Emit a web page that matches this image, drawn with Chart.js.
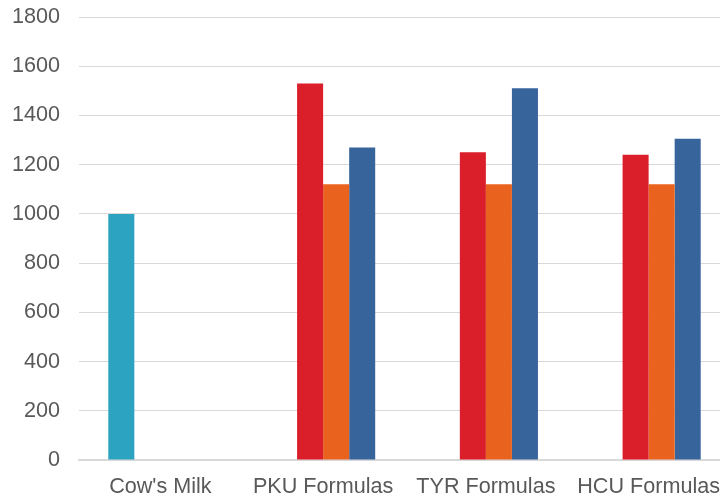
<!DOCTYPE html>
<html>
<head>
<meta charset="utf-8">
<script src="https://cdn.jsdelivr.net/npm/chart.js@4"></script>
<style>
  html, body { margin: 0; padding: 0; background: #fff; overflow: hidden; }
  #wrap { width: 730px; height: 498px; }
</style>
</head>
<body>
<div id="wrap"><canvas id="grafico" width="730" height="498"></canvas></div>
<script>
// Categorías y valores
const categorias = ["Cow's Milk", "PKU Formulas", "TYR Formulas", "HCU Formulas"];
const lecheVaca = [1000, null, null, null];
const serieRoja = [null, 1530, 1250, 1240];
const serieNaranja = [null, 1120, 1120, 1120];
const serieAzul = [null, 1270, 1510, 1305];
const ticksY = [0, 200, 400, 600, 800, 1000, 1200, 1400, 1600, 1800];

const fuente = { family: "'Liberation Sans', Arial, sans-serif", size: 21.6 };

function serie(datos, color) {
    return {
        data: datos,
        backgroundColor: color,
        borderWidth: 0,
        categoryPercentage: 0.64,
        barPercentage: 1.0
    };
}

const ctx = document.getElementById('grafico').getContext('2d');
new Chart(ctx, {
    type: 'bar',
    data: {
        labels: categorias,
        datasets: [
            serie(lecheVaca, '#2ca3c0'),
            serie(serieRoja, '#da1f2a'),
            serie(serieNaranja, '#e9631e'),
            serie(serieAzul, '#38649c')
        ]
    },
    options: {
        responsive: false,
        animation: false,
        layout: { padding: { top: 17, left: 12, right: 0, bottom: 0 } },
        plugins: {
            legend: { display: false },
            tooltip: { enabled: false }
        },
        scales: {
            x: {
                grid: { display: false, drawTicks: false },
                border: { color: '#d9d9d9', width: 2 },
                ticks: { color: '#595959', font: fuente, padding: 14, maxRotation: 0, autoSkip: false },
                afterFit: (eje) => {
                    eje.height = 38;
                    eje.paddingLeft = 0;
                    eje.paddingRight = 0;
                }
            },
            y: {
                min: 0,
                max: 1800,
                afterBuildTicks: (eje) => { eje.ticks = ticksY.map(v => ({ value: v })); },
                grid: { color: '#d9d9d9', lineWidth: 1, drawTicks: false },
                border: { display: false },
                ticks: {
                    color: '#595959',
                    font: fuente,
                    padding: 19,
                    callback: (v) => String(v)
                },
                afterFit: (eje) => {
                    eje.width = 67;
                    eje.paddingTop = 0;
                    eje.paddingBottom = 0;
                }
            }
        }
    }
});
</script>
</body>
</html>
